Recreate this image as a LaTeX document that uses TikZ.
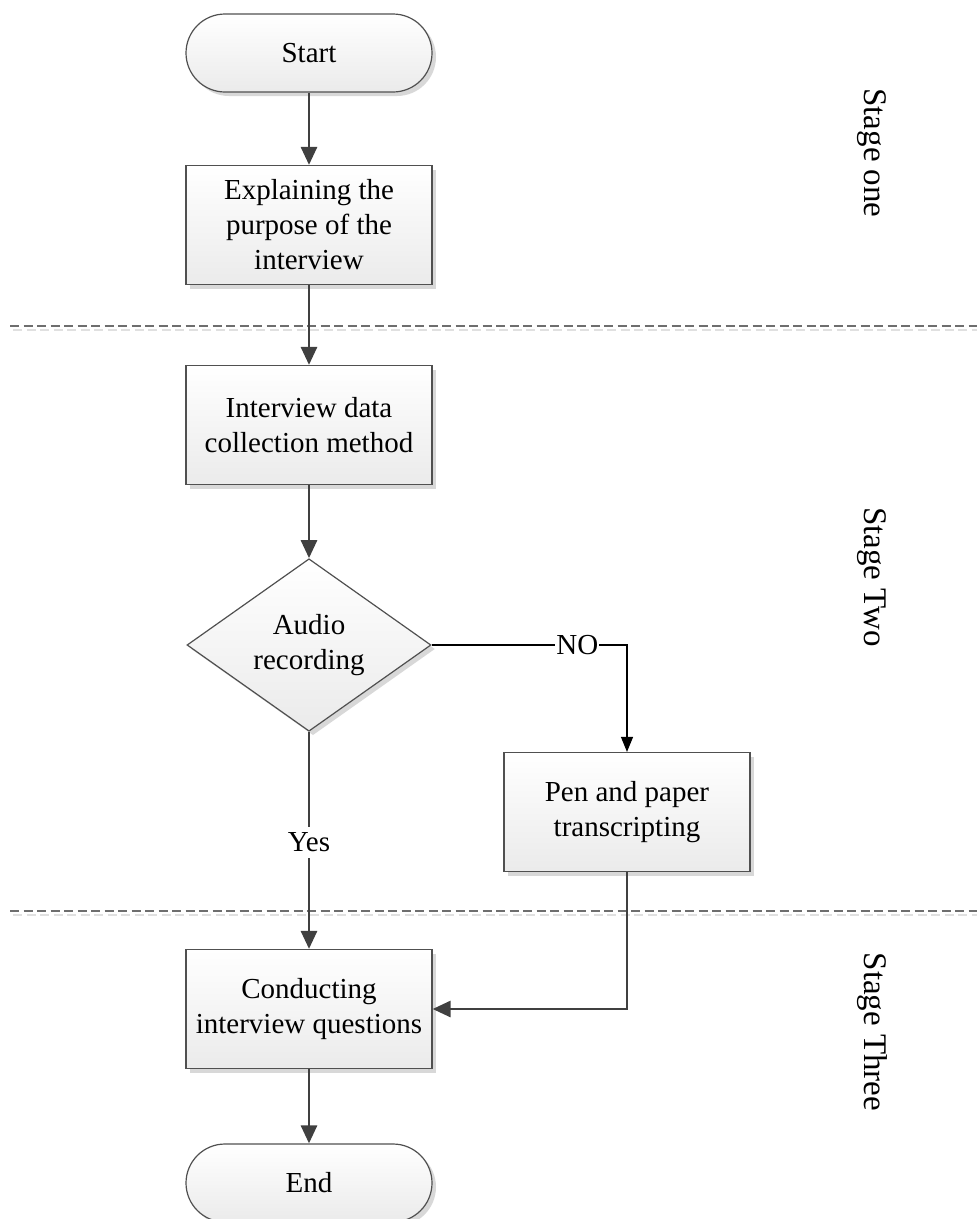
\documentclass[tikz,border=0pt]{standalone}
\usepackage{fontspec}
\setmainfont{Liberation Serif}
\usetikzlibrary{arrows.meta,shapes.geometric,shadows}

\definecolor{edgegray}{HTML}{505050}
\definecolor{flowgray}{HTML}{404040}
\definecolor{shadegray}{HTML}{D8D8D8}
\definecolor{dashgray}{HTML}{6E6E6E}

\tikzset{
  base/.style={draw=edgegray, line width=1.2pt, top color=white, bottom color=black!8,
    drop shadow={shadow xshift=4pt, shadow yshift=-4pt, fill=shadegray, opacity=1},
    align=center, inner sep=0pt, font=\fontsize{29}{35}\selectfont},
  procbox/.style={base, rectangle, minimum width=246pt, minimum height=119pt},
  terminal/.style={base, rectangle, rounded corners=39pt, minimum width=246pt, minimum height=78pt},
  decision/.style={base, diamond, minimum width=244pt, minimum height=162pt},
  flow/.style={draw=flowgray, line width=2.8pt, -{Triangle[width=16pt,length=18pt]}},
  thinflow/.style={draw=black, line width=1.1pt, -{Triangle[width=12pt,length=15pt]}},
  lbl/.style={fill=white, inner xsep=1pt, inner ysep=6pt, font=\fontsize{29}{35}\selectfont},
  stagelbl/.style={rotate=-90, font=\fontsize{33}{40}\selectfont},
  divider/.style={draw=dashgray, line width=1.3pt, dash pattern=on 9pt off 4.5pt},
  dividershade/.style={draw=black!12, line width=1.3pt, dash pattern=on 9pt off 4.5pt}
}

\begin{document}
\begin{tikzpicture}[x=1pt, y=-1pt]
  \useasboundingbox (0,0) rectangle (977,1219);

  % stage dividers
  \draw[dividershade] (13,330) -- (977,330);
  \draw[divider] (10,326) -- (977,326);
  \draw[dividershade] (13,915) -- (977,915);
  \draw[divider] (10,911) -- (977,911);

  % flow elements
  \node[terminal] (start) at (309,53) {Start};
  \node[procbox] (explain) at (309,225) {Explaining the\\purpose of the\\interview};
  \node[procbox] (method) at (309,425) {Interview data\\collection method};
  \node[decision] (audio) at (309,645) {Audio\\recording};
  \node[procbox] (pen) at (627,812) {Pen and paper\\transcripting};
  \node[procbox] (conduct) at (309,1009) {Conducting\\interview questions};
  \node[terminal] (end) at (309,1183) {End};

  % stage labels
  \node[stagelbl] (s1) at (872,153) {Stage one};
  \node[stagelbl] (s2) at (872,577) {Stage Two};
  \node[stagelbl] (s3) at (872,1032) {Stage Three};

  % connectors
  \draw[flow] (start.south) -- (explain.north);
  \draw[flow] (explain.south) -- (method.north);
  \draw[flow] (method.south) -- (audio.north);
  \draw[thinflow] (audio.east) -- node[lbl, pos=0.746] {NO} (audio.east -| pen.north) -- (pen.north);
  \draw[flow] (audio.south) -- node[lbl, pos=0.51] {Yes} (conduct.north);
  \draw[flow] (pen.south) |- (conduct.east);
  \draw[flow] (conduct.south) -- (end.north);
\end{tikzpicture}
\end{document}
